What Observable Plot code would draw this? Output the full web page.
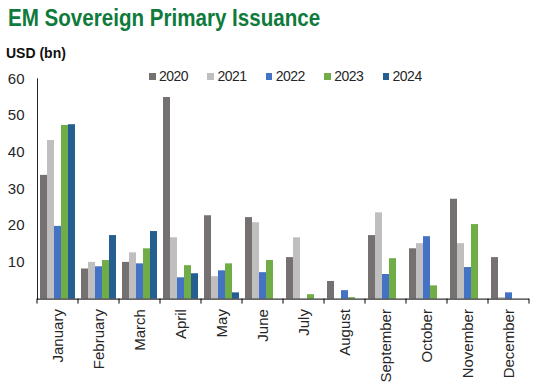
<!DOCTYPE html>
<html>
<head>
<meta charset="utf-8">
<script src="https://cdn.jsdelivr.net/npm/d3@7"></script>
<script src="https://cdn.jsdelivr.net/npm/@observablehq/plot@0.6"></script>
<style>
  html, body { margin: 0; padding: 0; background: #fff; }
  body { width: 542px; height: 386px; position: relative; overflow: hidden; font-family: "Liberation Sans", Arial, sans-serif; }
  #title { position: absolute; left: 7.5px; top: 6.4px; font-size: 24px; line-height: 24px; font-weight: bold; color: #0e7a3b; white-space: nowrap; transform: scaleX(0.857); transform-origin: left top; }
  #unit { position: absolute; left: 6px; top: 45.5px; font-size: 14px; line-height: 14px; font-weight: bold; color: #111; }
  #legend { position: absolute; left: 149px; top: 69.2px; display: flex; }
  .item { width: 58.4px; display: flex; align-items: center; font-size: 14px; line-height: 14px; color: #262626; letter-spacing: -0.5px; }
  .sw { width: 6.7px; height: 6.7px; margin-right: 3.3px; margin-top: 1px; }
  #chart { position: absolute; left: 0; top: 60px; }
</style>
</head>
<body>
<div id="title">EM Sovereign Primary Issuance</div>
<div id="unit">USD (bn)</div>
<div id="legend"></div>
<div id="chart"></div>
<script>
const months = ["January","February","March","April","May","June","July","August","September","October","November","December"];
const years = ["2020","2021","2022","2023","2024"];
const colors = ["#767171","#BFBFBF","#4472C4","#70AD47","#255E91"];
const yTicks = [10,20,30,40,50,60];

const v2020 = [33.7, 8.2, 10.0, 54.9, 22.7, 22.2, 11.3, 4.8, 17.3, 13.7, 27.2, 11.3];
const v2021 = [43.2, 10.0, 12.6, 16.7, 6.1, 20.8, 16.7, null, 23.5, 15.1, 15.1, 0.4];
const v2022 = [19.8, 8.8, 9.6, 5.8, 7.7, 7.2, null, 2.3, 6.7, 17.0, 8.6, 1.7];
const v2023 = [47.3, 10.5, 13.7, 9.1, 9.6, 10.5, 1.2, 0.4, 11.0, 3.6, 20.3, null];
const v2024 = [47.5, 17.3, 18.4, 6.9, 1.7, null, null, null, null, null, null, null];

const series = [v2020, v2021, v2022, v2023, v2024];
const data = [];
months.forEach((m, i) => {
  years.forEach((yr, j) => {
    const v = series[j][i];
    if (v != null) data.push({month: m, year: yr, value: v});
  });
});

// legend
const legend = document.getElementById("legend");
years.forEach((yr, j) => {
  const it = document.createElement("div");
  it.className = "item";
  const sw = document.createElement("span");
  sw.className = "sw";
  sw.style.background = colors[j];
  it.appendChild(sw);
  it.appendChild(document.createTextNode(yr));
  legend.appendChild(it);
});

const chart = Plot.plot({
  width: 542,
  height: 326,
  marginTop: 18.3,
  marginBottom: 87.4,
  marginLeft: 35,
  marginRight: 12,
  style: {fontFamily: "'Liberation Sans', Arial, sans-serif", fontSize: "15px", color: "#262626", background: "transparent"},
  fx: {domain: months, padding: 0, label: null, tickSize: 0, tickPadding: 10, tickRotate: -90, axis: "bottom"},
  x: {domain: years, axis: null, paddingInner: 0, paddingOuter: 0.21},
  y: {domain: [0, 60], ticks: yTicks, tickSize: 0, tickPadding: 13, line: true, label: null},
  color: {domain: years, range: colors},
  marks: [
    Plot.barY(data, {fx: "month", x: "year", y: "value", fill: "year"}),
    Plot.ruleY([0], {stroke: "#000", strokeWidth: 1})
  ]
});
document.getElementById("chart").appendChild(chart);

// category boundary tick marks on the x axis, computed from the fx and y scales
const fx = chart.scale("fx");
const ys = chart.scale("y");
const base = ys.apply(0);
const edges = months.map(m => fx.apply(m)).concat([fx.apply(months[months.length - 1]) + fx.bandwidth]);
const g = d3.select(chart).append("g").attr("stroke", "#000").attr("stroke-width", 1);
edges.forEach(x => {
  g.append("line").attr("x1", x).attr("x2", x).attr("y1", base).attr("y2", base + 5);
});
</script>
</body>
</html>
